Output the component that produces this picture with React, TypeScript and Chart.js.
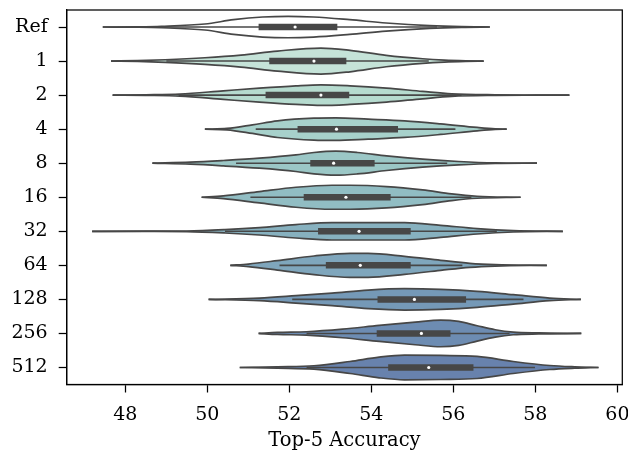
import React, { useEffect, useRef } from 'react';
import { Chart, registerables } from 'chart.js';

Chart.register(...registerables);

// Category labels (top to bottom)
const categories = ['Ref', '1', '2', '4', '8', '16', '32', '64', '128', '256', '512'];

// X-axis tick values
const xTickValues = [48, 50, 52, 54, 56, 58, 60];

// Violin density profiles: accuracy values and relative density
const accRef = [47.45, 48.3, 48.88, 49.94, 50.64, 51.35, 51.97, 52.59, 53.47, 54.36, 55.42, 56.2, 56.89];
const denRef = [0, 0.2, 0.7, 3, 7.3, 10, 10.7, 10, 7.3, 4, 1.3, 0.3, 0];

const acc1 = [47.65, 48.3, 48.97, 49.94, 50.82, 51.71, 52.77, 53.48, 54.36, 55.25, 55.78, 56.3, 56.74];
const den1 = [0, 0.4, 1.3, 3.3, 6, 10, 13, 10.7, 5.7, 2.3, 1, 0.3, 0];

const acc2 = [47.69, 48.5, 49.33, 50.39, 51.27, 52.16, 52.77, 53.48, 54.37, 55.25, 55.96, 57.02, 58.0, 58.83];
const den2 = [0, 0.3, 1, 4.3, 7, 9.3, 10.3, 9.3, 7, 3.7, 1.3, 0.3, 0.1, 0];

const acc4 = [49.94, 50.48, 51.1, 51.71, 52.6, 53.13, 53.92, 54.81, 55.69, 56.58, 57.02, 57.3];
const den4 = [0, 0.7, 4.3, 8.3, 11, 11.3, 10, 8.3, 5.3, 1.7, 0.3, 0];

const acc8 = [48.66, 49.59, 50.39, 51.27, 52.16, 52.6, 53.13, 53.66, 54.37, 55.25, 56.13, 57.02, 58.04];
const den8 = [0, 1, 2.7, 5, 8.3, 10.7, 12, 10.7, 7.3, 4, 1.7, 0.3, 0];

const acc16 = [49.86, 50.39, 51.27, 52.16, 53.04, 53.48, 54.37, 55.25, 55.96, 56.58, 57.64];
const den16 = [0, 1.3, 5.7, 10, 12, 12, 10.7, 7.3, 3.3, 1, 0];

const acc32 = [47.19, 48.5, 49.5, 50.43, 51.27, 52.16, 53.04, 53.92, 54.81, 55.69, 56.58, 57.46, 58.67];
const den32 = [0, 0.1, 0.3, 1.7, 3.7, 6.7, 8.7, 8.7, 8.7, 6, 2.7, 0.7, 0];

const acc64 = [50.56, 51.0, 51.71, 52.6, 53.48, 53.92, 54.81, 55.69, 56.4, 57.02, 58.28];
const den64 = [0, 1.3, 4.7, 9.3, 12, 12, 9, 5, 2, 0.7, 0];

const acc128 = [50.03, 51.27, 52.16, 53.04, 53.92, 54.81, 55.69, 56.58, 57.46, 58.35, 59.11];
const den128 = [0, 1.3, 3.7, 6.3, 9.3, 10.7, 10, 8, 4.7, 1.3, 0];

const acc256 = [51.25, 51.71, 52.42, 53.3, 54.19, 55.07, 55.69, 56.13, 56.58, 57.02, 57.46, 58.08, 59.12];
const den256 = [0, 1, 1.7, 4.3, 8, 11.3, 13.3, 12, 7.7, 3.7, 1.3, 0.5, 0];

const acc512 = [50.79, 51.71, 52.6, 53.48, 54.19, 54.81, 55.69, 56.58, 57.46, 58.35, 58.96, 59.54];
const den512 = [0, 0.7, 1.7, 6, 10.3, 12.3, 12, 11, 6, 2, 0.7, 0];

// Box statistics
const whiskerLow = [48.8, 49.0, 49.3, 51.18, 50.7, 51.05, 50.43, 51.76, 52.07, 52.42, 52.42];
const q1Values = [51.25, 51.51, 51.42, 52.2, 52.51, 52.35, 52.7, 52.89, 54.15, 54.13, 54.41];
const medianValues = [52.14, 52.6, 52.77, 53.15, 53.08, 53.38, 53.7, 53.73, 55.05, 55.22, 55.4];
const q3Values = [53.17, 53.39, 53.46, 54.65, 54.08, 54.47, 54.96, 54.96, 56.31, 55.93, 56.49];
const whiskerHigh = [55.6, 55.4, 56.2, 56.05, 55.85, 56.44, 57.06, 56.22, 57.71, 57.37, 57.99];

// Styles
const fillColors = ['#ffffff', '#c5e3d8', '#b6dbcf', '#a7d1cb', '#9bc7c6', '#91bdc3', '#87b1bf', '#7fa6bc', '#7599b7', '#6d8cb2', '#6882ad'];
const GRAY = '#474747';
const FONT = 'DejaVu Serif';

const profiles: [number[], number[]][] = [
  [accRef, denRef], [acc1, den1], [acc2, den2], [acc4, den4], [acc8, den8], [acc16, den16],
  [acc32, den32], [acc64, den64], [acc128, den128], [acc256, den256], [acc512, den512],
];

const DENSITY_PEAK = 13.6; // density that maps to the maximum half-width
const HALF_WIDTH = 0.4;

const framePlugin = {
  id: 'frame',
  afterDraw(chart: any) {
    const { ctx, chartArea } = chart;
    ctx.save();
    ctx.strokeStyle = '#000';
    ctx.lineWidth = 1.25;
    ctx.strokeRect(chartArea.left, chartArea.top, chartArea.right - chartArea.left, chartArea.bottom - chartArea.top);
    ctx.restore();
  },
};

export default function App() {
  const canvasRef = useRef<HTMLCanvasElement>(null);

  useEffect(() => {
    document.body.style.margin = '0';
    const canvas = canvasRef.current;
    if (!canvas) return;
    const k = HALF_WIDTH / DENSITY_PEAK;
    const datasets: any[] = [];
    profiles.forEach(([xs, ds], i) => {
      datasets.push({
        data: xs.map((x, j) => ({ x, y: i - ds[j] * k })),
        borderColor: GRAY, borderWidth: 1.7, pointRadius: 0, fill: false,
        cubicInterpolationMode: 'monotone', order: 3,
      });
      datasets.push({
        data: xs.map((x, j) => ({ x, y: i + ds[j] * k })),
        borderColor: GRAY, borderWidth: 1.7, pointRadius: 0, fill: '-1',
        backgroundColor: fillColors[i], cubicInterpolationMode: 'monotone', order: 3,
      });
    });
    categories.forEach((_, i) => {
      datasets.push({
        data: [{ x: whiskerLow[i], y: i }, { x: whiskerHigh[i], y: i }],
        borderColor: GRAY, borderWidth: 1.6, pointRadius: 0, fill: false, order: 2,
      });
      datasets.push({
        data: [{ x: q1Values[i], y: i }, { x: q3Values[i], y: i }],
        borderColor: GRAY, borderWidth: 6.5, borderCapStyle: 'butt', pointRadius: 0, fill: false, order: 1,
      });
      datasets.push({
        data: [{ x: medianValues[i], y: i }],
        showLine: false, pointRadius: 1.6, pointBackgroundColor: '#ffffff', pointBorderWidth: 0, order: 0,
      });
    });

    const chart = new Chart(canvas, {
      type: 'line',
      data: { datasets },
      plugins: [framePlugin],
      options: {
        animation: false,
        responsive: false,
        devicePixelRatio: 1,
        events: [],
        layout: { padding: { top: 10, right: 5.7, left: 0, bottom: 0 } },
        plugins: { legend: { display: false }, tooltip: { enabled: false } },
        scales: {
          x: {
            type: 'linear',
            min: 46.57,
            max: 60.12,
            afterBuildTicks: (s: any) => { s.ticks = xTickValues.map((v) => ({ value: v })); },
            afterFit: (s: any) => { s.height = 72.5; s.paddingLeft = 0; s.paddingRight = 0; },
            grid: { drawOnChartArea: false, drawTicks: true, tickLength: 8, tickColor: '#000', tickWidth: 1.25 },
            border: { display: true, color: '#000', width: 1.25 },
            ticks: { color: '#000', font: { family: FONT, size: 19 }, padding: 11, maxRotation: 0, callback: (v: any) => String(v) },
            title: { display: true, text: 'Top-5 Accuracy', color: '#000', font: { family: FONT, size: 19.5 }, padding: { top: 0, bottom: 4 } },
          },
          y: {
            type: 'linear',
            reverse: true,
            min: -0.5,
            max: 10.5,
            afterBuildTicks: (s: any) => { s.ticks = categories.map((_, i) => ({ value: i })); },
            afterFit: (s: any) => { s.width = 66.7; s.paddingTop = 0; s.paddingBottom = 0; },
            grid: { drawOnChartArea: false, drawTicks: true, tickLength: 8, tickColor: '#000', tickWidth: 1.25 },
            border: { display: true, color: '#000', width: 1.25 },
            ticks: { color: '#000', font: { family: FONT, size: 19 }, padding: 11, callback: (v: any) => categories[v] ?? '' },
          },
        },
      } as any,
    });
    return () => chart.destroy();
  }, []);

  return <canvas ref={canvasRef} width={628} height={457} style={{ display: 'block' }} />;
}
